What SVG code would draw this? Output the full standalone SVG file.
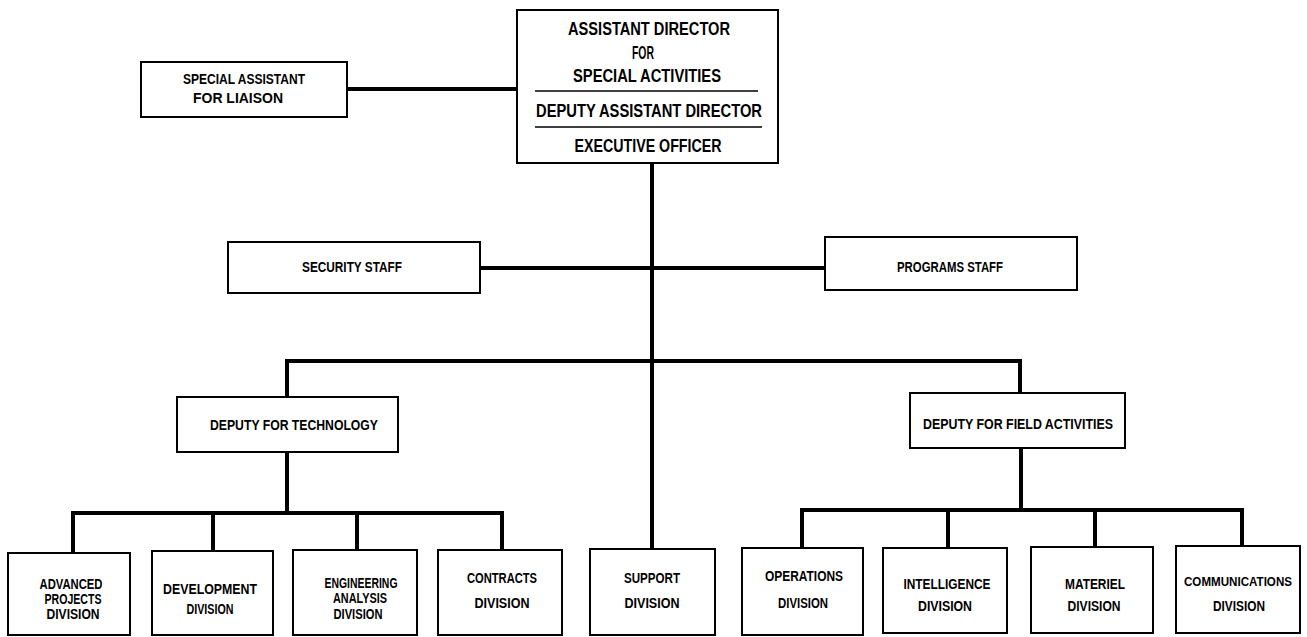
<svg xmlns="http://www.w3.org/2000/svg" width="1307" height="637" viewBox="0 0 1307 637">
  <style>
    .box { fill: #fff; stroke: #000; stroke-width: 2; }
    .rule { stroke: #000; stroke-width: 1.5; }
    .wire { fill: none; stroke: #000; stroke-width: 4; stroke-linejoin: miter; stroke-linecap: square; }
    text { font-family: "Liberation Sans", Arial, sans-serif; font-weight: bold; fill: #000; text-anchor: middle; }
    .hd { font-size: 18.5px; }
    .lb { font-size: 14px; }
    .sm { font-size: 14.5px; }
    .tight { font-size: 13px; }
  </style>
  <rect width="1307" height="637" fill="#fff"/>

  <!-- connectors -->
  <g id="connectors" class="wire">
    <path d="M347 89H517"/>
    <path d="M652 163V549"/>
    <path d="M480 268H825"/>
    <path d="M287 397V361H1020V393"/>
    <path d="M287 452V513"/>
    <path d="M73 553V513H502V550"/>
    <path d="M213 513V551"/>
    <path d="M357 513V550"/>
    <path d="M1021 448V510"/>
    <path d="M802 548V510H1242V546"/>
    <path d="M948 510V548"/>
    <path d="M1095 510V547"/>
  </g>

  <g id="assistant-director">
    <rect class="box" x="517" y="10" width="261" height="153"/>
    <line class="rule" x1="535" y1="91" x2="758" y2="91"/>
    <line class="rule" x1="535" y1="127" x2="762" y2="127"/>
    <text class="hd" x="649" y="35" textLength="162" lengthAdjust="spacingAndGlyphs">ASSISTANT DIRECTOR</text>
    <text class="hd" x="643" y="59" textLength="22" lengthAdjust="spacingAndGlyphs">FOR</text>
    <text class="hd" x="647" y="82" textLength="148" lengthAdjust="spacingAndGlyphs">SPECIAL ACTIVITIES</text>
    <text class="hd" x="649" y="117" textLength="226" lengthAdjust="spacingAndGlyphs">DEPUTY ASSISTANT DIRECTOR</text>
    <text class="hd" x="648" y="152" textLength="147" lengthAdjust="spacingAndGlyphs">EXECUTIVE OFFICER</text>
  </g>

  <g id="special-assistant">
    <rect class="box" x="141" y="62" width="206" height="55"/>
    <text class="lb" x="244" y="84" textLength="122" lengthAdjust="spacingAndGlyphs">SPECIAL ASSISTANT</text>
    <text class="lb" x="238" y="103" textLength="90" lengthAdjust="spacingAndGlyphs">FOR LIAISON</text>
  </g>

  <g id="security-staff">
    <rect class="box" x="228" y="242" width="252" height="51"/>
    <text class="lb" x="352" y="272" textLength="100" lengthAdjust="spacingAndGlyphs">SECURITY STAFF</text>
  </g>

  <g id="programs-staff">
    <rect class="box" x="825" y="237" width="252" height="53"/>
    <text class="lb" x="950" y="272" textLength="106" lengthAdjust="spacingAndGlyphs">PROGRAMS STAFF</text>
  </g>

  <g id="deputy-technology">
    <rect class="box" x="177" y="397" width="221" height="55"/>
    <text class="lb" x="294" y="430" textLength="168" lengthAdjust="spacingAndGlyphs">DEPUTY FOR TECHNOLOGY</text>
  </g>

  <g id="deputy-field">
    <rect class="box" x="910" y="393" width="215" height="55"/>
    <text class="lb" x="1018" y="429" textLength="190" lengthAdjust="spacingAndGlyphs">DEPUTY FOR FIELD ACTIVITIES</text>
  </g>

  <g id="advanced-projects">
    <rect class="box" x="8" y="553" width="122" height="82"/>
    <text class="sm" x="71" y="589" textLength="63" lengthAdjust="spacingAndGlyphs">ADVANCED</text>
    <text class="sm" x="73" y="604" textLength="57" lengthAdjust="spacingAndGlyphs">PROJECTS</text>
    <text class="sm" x="73" y="619" textLength="53" lengthAdjust="spacingAndGlyphs">DIVISION</text>
  </g>

  <g id="development">
    <rect class="box" x="152" y="551" width="121" height="84"/>
    <text class="sm" x="210" y="594" textLength="94" lengthAdjust="spacingAndGlyphs">DEVELOPMENT</text>
    <text class="sm" x="210" y="614" textLength="47" lengthAdjust="spacingAndGlyphs">DIVISION</text>
  </g>

  <g id="engineering-analysis">
    <rect class="box" x="293" y="550" width="124" height="85"/>
    <text class="sm" x="361" y="588" textLength="73" lengthAdjust="spacingAndGlyphs">ENGINEERING</text>
    <text class="sm" x="360" y="603" textLength="54" lengthAdjust="spacingAndGlyphs">ANALYSIS</text>
    <text class="sm" x="358" y="619" textLength="49" lengthAdjust="spacingAndGlyphs">DIVISION</text>
  </g>

  <g id="contracts">
    <rect class="box" x="438" y="550" width="124" height="85"/>
    <text class="sm" x="502" y="583" textLength="70" lengthAdjust="spacingAndGlyphs">CONTRACTS</text>
    <text class="sm" x="502" y="608" textLength="55" lengthAdjust="spacingAndGlyphs">DIVISION</text>
  </g>

  <g id="support">
    <rect class="box" x="590" y="549" width="125" height="86"/>
    <text class="sm" x="652" y="583" textLength="56" lengthAdjust="spacingAndGlyphs">SUPPORT</text>
    <text class="sm" x="652" y="608" textLength="55" lengthAdjust="spacingAndGlyphs">DIVISION</text>
  </g>

  <g id="operations">
    <rect class="box" x="742" y="548" width="121" height="87"/>
    <text class="sm" x="804" y="581" textLength="78" lengthAdjust="spacingAndGlyphs">OPERATIONS</text>
    <text class="sm" x="803" y="608" textLength="50" lengthAdjust="spacingAndGlyphs">DIVISION</text>
  </g>

  <g id="intelligence">
    <rect class="box" x="883" y="548" width="124" height="85"/>
    <text class="sm" x="947" y="589" textLength="87" lengthAdjust="spacingAndGlyphs">INTELLIGENCE</text>
    <text class="sm" x="945" y="611" textLength="54" lengthAdjust="spacingAndGlyphs">DIVISION</text>
  </g>

  <g id="materiel">
    <rect class="box" x="1031" y="547" width="122" height="86"/>
    <text class="sm" x="1095" y="589" textLength="60" lengthAdjust="spacingAndGlyphs">MATERIEL</text>
    <text class="sm" x="1094" y="611" textLength="53" lengthAdjust="spacingAndGlyphs">DIVISION</text>
  </g>

  <g id="communications">
    <rect class="box" x="1176" y="546" width="124" height="87"/>
    <text class="tight" x="1238" y="586" textLength="108" lengthAdjust="spacingAndGlyphs">COMMUNICATIONS</text>
    <text class="sm" x="1239" y="611" textLength="52" lengthAdjust="spacingAndGlyphs">DIVISION</text>
  </g>
</svg>
